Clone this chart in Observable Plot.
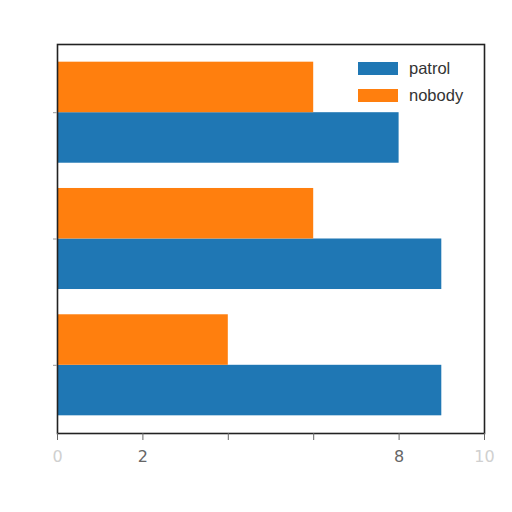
<!DOCTYPE html>
<html>
<head>
<meta charset="utf-8">
<script src="https://cdn.jsdelivr.net/npm/d3@7"></script>
<script src="https://cdn.jsdelivr.net/npm/@observablehq/plot@0.6"></script>
<style>
  body { margin: 0; background: #fff; font-family: "DejaVu Sans", sans-serif; }
  #wrap { position: relative; width: 512px; height: 512px; }
  .legend { position: absolute; left: 358px; top: 55px; font-size: 16.5px; color: #333; font-family: "Liberation Sans", Arial, sans-serif; }
  .legend div { display: flex; align-items: center; height: 27px; }
  .legend span.sw { display: inline-block; width: 40px; height: 13px; margin-right: 11px; }
</style>
</head>
<body>
<div id="wrap"></div>
<script>
// Data (group index 0 = bottom group, as in the source)
const groups = [0, 1, 2];
const series = ["patrol", "nobody"];
const patrol = [9, 9, 8];
const nobody = [4, 6, 6];
const colors = ["#1f77b4", "#ff7f0e"];
const xTicks = [0, 2, 4, 6, 8, 10];
const xLabelsDark = [2, 8];
const xLabelsLight = [0, 10];

const rows = [];
groups.forEach((g, i) => {
  rows.push({group: g, series: "patrol", value: patrol[i], lo: g - 0.4, hi: g});
  rows.push({group: g, series: "nobody", value: nobody[i], lo: g, hi: g + 0.4});
});

const chart = Plot.plot({
  width: 512,
  height: 512,
  marginLeft: 57,
  marginRight: 28,
  marginTop: 44,
  marginBottom: 79,
  style: {fontFamily: "DejaVu Sans, sans-serif", background: "transparent"},
  x: {domain: [0, 10], label: null},
  y: {domain: [-0.54, 2.54], label: null},
  color: {domain: series, range: colors},
  marks: [
    Plot.rectX(rows, {x1: 0, x2: "value", y1: "lo", y2: "hi", fill: "series"}),
    Plot.frame({stroke: "#222", strokeWidth: 1.6}),
    Plot.axisY({ticks: groups, tickFormat: () => "", tickSize: 4, stroke: "#999", label: null}),
    Plot.axisX({ticks: xTicks, tickFormat: () => "", tickSize: 7, stroke: "#666", label: null}),
    Plot.axisX({ticks: xLabelsDark, tickSize: 0, tickPadding: 17, fontSize: 16, fill: "#666", tickFormat: d => String(d), label: null}),
    Plot.axisX({ticks: xLabelsLight, tickSize: 0, tickPadding: 17, fontSize: 16, fill: "#d0d0d0", tickFormat: d => String(d), label: null})
  ]
});
document.getElementById("wrap").appendChild(chart);

const legend = document.createElement("div");
legend.className = "legend";
series.forEach((s, i) => {
  const row = document.createElement("div");
  row.innerHTML = `<span class="sw" style="background:${colors[i]}"></span>${s}`;
  legend.appendChild(row);
});
document.getElementById("wrap").appendChild(legend);
</script>
</body>
</html>
